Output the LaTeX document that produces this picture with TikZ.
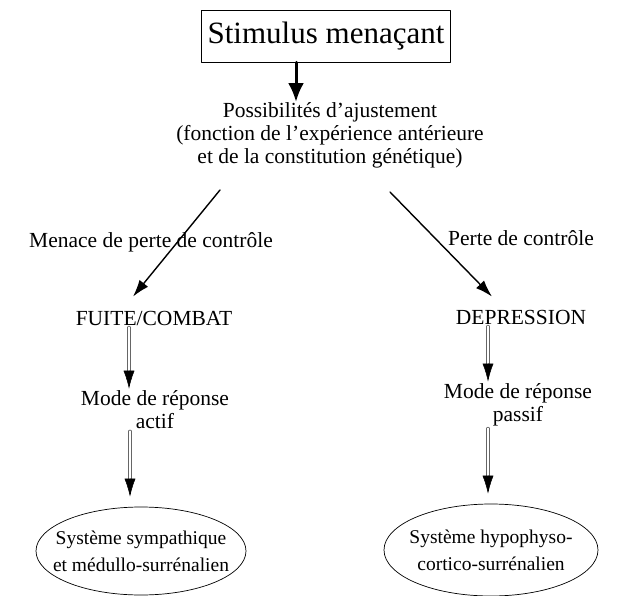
\documentclass[tikz,border=0pt]{standalone}
\usepackage{fontspec}
\setmainfont{Liberation Serif}
\usetikzlibrary{arrows.meta,shapes.geometric}
\begin{document}
\begin{tikzpicture}[x=1pt,y=-1pt,line cap=round,line join=round,
	txt/.style={inner sep=2pt,align=center,font=\fontsize{21.5}{23}\selectfont},
	stimbox/.style={draw,line width=0.8pt,inner xsep=6pt,inner ysep=12pt,font=\fontsize{31}{36}\selectfont},
	ell/.style={ellipse,draw,line width=0.7pt,inner xsep=-22pt,inner ysep=0pt,align=center,
		font=\fontsize{19.5}{27}\selectfont},
	fleche/.style={line width=1.4pt,-{Latex[length=17pt,width=11pt]}},
	dbl/.style={draw=black!60,line width=0.7pt,double=white,double distance=1.8pt,shorten >=14pt},
	pointe/.style={line width=0.5pt,-{Latex[length=18pt,width=11pt]}}]
	\useasboundingbox (0,0) rectangle (621,596);
	% haut
	\node[stimbox] (stim) at (326,36) {Stimulus menaçant};
	\node[txt] (poss) at (330,135) {Possibilités d'ajustement\\(fonction de l'expérience antérieure\\et de la constitution génétique)};
	\draw[line width=3pt,-{Latex[length=19pt,width=16pt]}]
	([xshift=-30pt]stim.south) -- ([xshift=-34pt,yshift=-2pt]poss.north);

	% branche gauche
	\node[txt] (menace) at (151,242) {Menace de perte de contrôle};
	\node[txt] (fuite) at (154,318) {FUITE/COMBAT};
	\node[txt] (modeG) at (155,410) {Mode de réponse\\actif};
	\node[ell,minimum width=210pt,minimum height=88pt] (ellG) at (141,551)
	{Système sympathique\\et médullo-surrénalien};
	\draw[fleche] ([xshift=-110pt,yshift=-20pt]poss.south) -- ([xshift=-21pt,yshift=12pt]fuite.north);
	\draw[dbl] ([xshift=-25pt]fuite.south) -- ([xshift=-26pt]modeG.north);
	\draw[pointe] ([xshift=-26pt,yshift=3pt]modeG.north) -- ([xshift=-26pt]modeG.north);
	\draw[dbl] ([xshift=-25pt]modeG.south) -- ([xshift=-11pt,yshift=10pt]ellG.north);
	\draw[pointe] ([xshift=-11pt,yshift=13pt]ellG.north) -- ([xshift=-11pt,yshift=10pt]ellG.north);

	% branche droite
	\node[txt] (perte) at (521,238) {Perte de contrôle};
	\node[txt] (depr) at (521,317) {DEPRESSION};
	\node[txt] (modeD) at (518,405) {Mode de réponse\\passif};
	\node[ell,minimum width=214pt,minimum height=92pt] (ellD) at (491,550)
	{Système hypophyso-\\cortico-surrénalien};
	\draw[fleche] ([xshift=60pt,yshift=-22pt]poss.south) -- ([xshift=-29pt,yshift=11pt]depr.north);
	\draw[dbl] ([xshift=-33pt]depr.south) -- ([xshift=-30pt]modeD.north);
	\draw[pointe] ([xshift=-30pt,yshift=3pt]modeD.north) -- ([xshift=-30pt]modeD.north);
	\draw[dbl] ([xshift=-30pt]modeD.south) -- ([xshift=-3pt,yshift=10pt]ellD.north);
	\draw[pointe] ([xshift=-3pt,yshift=13pt]ellD.north) -- ([xshift=-3pt,yshift=10pt]ellD.north);
\end{tikzpicture}
\end{document}
